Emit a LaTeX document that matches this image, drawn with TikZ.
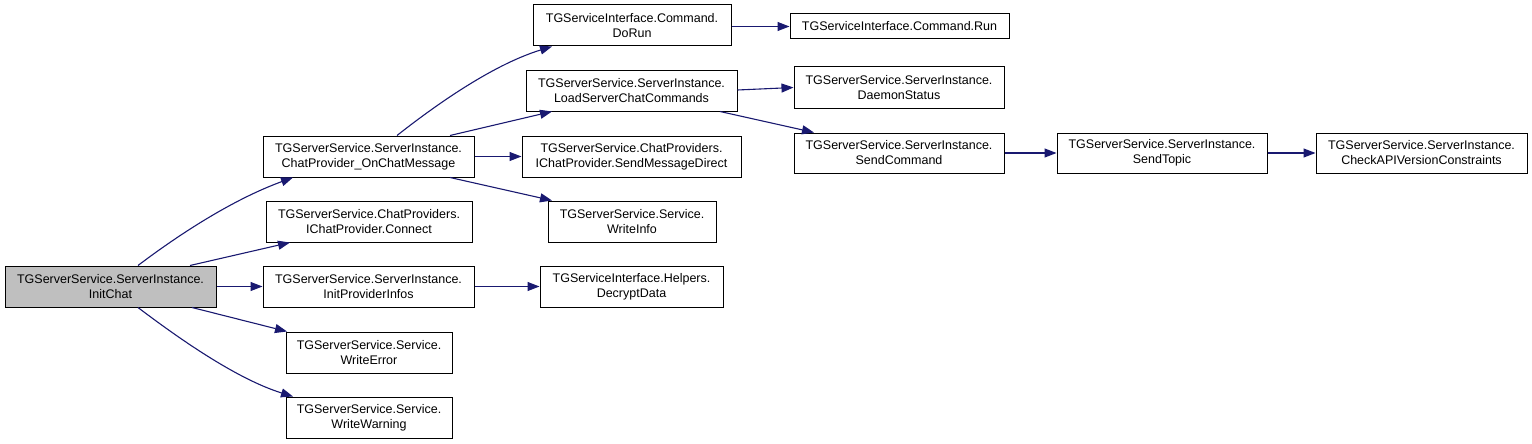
\documentclass[tikz,border=0pt]{standalone}
\usepackage{fontspec}
\setmainfont{Liberation Sans}
\usetikzlibrary{arrows.meta}
\definecolor{edgeblue}{HTML}{191970}
\definecolor{curgray}{HTML}{BFBFBF}
\tikzset{
  fn/.style={draw=black, line width=1pt, fill=white, inner sep=0pt, align=center,
    minimum height=41pt, font=\fontsize{12.5}{15}\selectfont},
  cur/.style={fn, fill=curgray},
  call/.style={draw=edgeblue, line width=1.1pt, -{Triangle[length=12pt,width=9pt]}}
}
\begin{document}
\begin{tikzpicture}[x=1pt,y=-1pt]
\useasboundingbox (0,0) rectangle (1532,444);
\node[cur, minimum width=211pt] (initchat) at (110.5,286.5) {TGServerService.ServerInstance.\\InitChat};
\node[fn, minimum width=211pt] (chatmsg) at (368.5,156.5) {TGServerService.ServerInstance.\\ChatProvider\_OnChatMessage};
\node[fn, minimum width=206pt] (connect) at (369,221.5) {TGServerService.ChatProviders.\\IChatProvider.Connect};
\node[fn, minimum width=211pt] (initprov) at (368.5,286.5) {TGServerService.ServerInstance.\\InitProviderInfos};
\node[fn, minimum width=166pt] (werror) at (369,352.5) {TGServerService.Service.\\WriteError};
\node[fn, minimum width=166pt] (wwarn) at (369,417.5) {TGServerService.Service.\\WriteWarning};
\node[fn, minimum width=198pt] (dorun) at (632,25.5) {TGServiceInterface.Command.\\DoRun};
\node[fn, minimum width=211pt, minimum height=40pt] (loadscc) at (631.5,91) {TGServerService.ServerInstance.\\LoadServerChatCommands};
\node[fn, minimum width=219pt] (sendmd) at (631.5,156.5) {TGServerService.ChatProviders.\\IChatProvider.SendMessageDirect};
\node[fn, minimum width=168pt] (winfo) at (632,221.5) {TGServerService.Service.\\WriteInfo};
\node[fn, minimum width=183pt] (decrypt) at (631.5,286.5) {TGServiceInterface.Helpers.\\DecryptData};
\node[fn, minimum width=219pt, minimum height=25pt] (cmdrun) at (899.5,26.5) {TGServiceInterface.Command.Run};
\node[fn, minimum width=210pt] (daemon) at (899,87.5) {TGServerService.ServerInstance.\\DaemonStatus};
\node[fn, minimum width=210pt, minimum height=40pt] (sendcmd) at (899,153) {TGServerService.ServerInstance.\\SendCommand};
\node[fn, minimum width=210pt, minimum height=40pt] (sendtopic) at (1162,153) {TGServerService.ServerInstance.\\SendTopic};
\node[fn, minimum width=211pt, minimum height=40pt] (checkapi) at (1421.5,153) {TGServerService.ServerInstance.\\CheckAPIVersionConstraints};

\draw[call] ([xshift=27.5pt]initchat.north) .. controls +(37,-28) and +(-63,23) .. ([xshift=-75.5pt]chatmsg.south);
\draw[call] ([xshift=79.5pt]initchat.north) -- ([xshift=-79pt]connect.south);
\draw[call] (initchat.east) -- (initprov.west);
\draw[call] ([xshift=81.5pt]initchat.south) -- ([xshift=-82pt]werror.north);
\draw[call] ([xshift=27.5pt]initchat.south) .. controls +(37,28) and +(-58,-18) .. ([xshift=-76pt]wwarn.north);
\draw[call] ([xshift=28.5pt]chatmsg.north) .. controls +(33,-26) and +(-62,19) .. ([xshift=-80pt]dorun.south);
\draw[call] ([xshift=81.5pt]chatmsg.north) -- ([xshift=-79.5pt]loadscc.south);
\draw[call] (chatmsg.east) -- (sendmd.west);
\draw[call] ([xshift=81.5pt]chatmsg.south) -- ([xshift=-80pt]winfo.north);
\draw[call] (dorun.east |- cmdrun.west) -- (cmdrun.west);
\draw[call] ([yshift=1pt]loadscc.east) -- (daemon.west);
\draw[call] ([xshift=88.5pt]loadscc.south) -- ([xshift=-85pt]sendcmd.north);
\draw[call] (initprov.east) -- (decrypt.west);
\draw[call] (sendcmd.east) -- (sendtopic.west);
\draw[call] (sendtopic.east) -- (checkapi.west);
\end{tikzpicture}
\end{document}
